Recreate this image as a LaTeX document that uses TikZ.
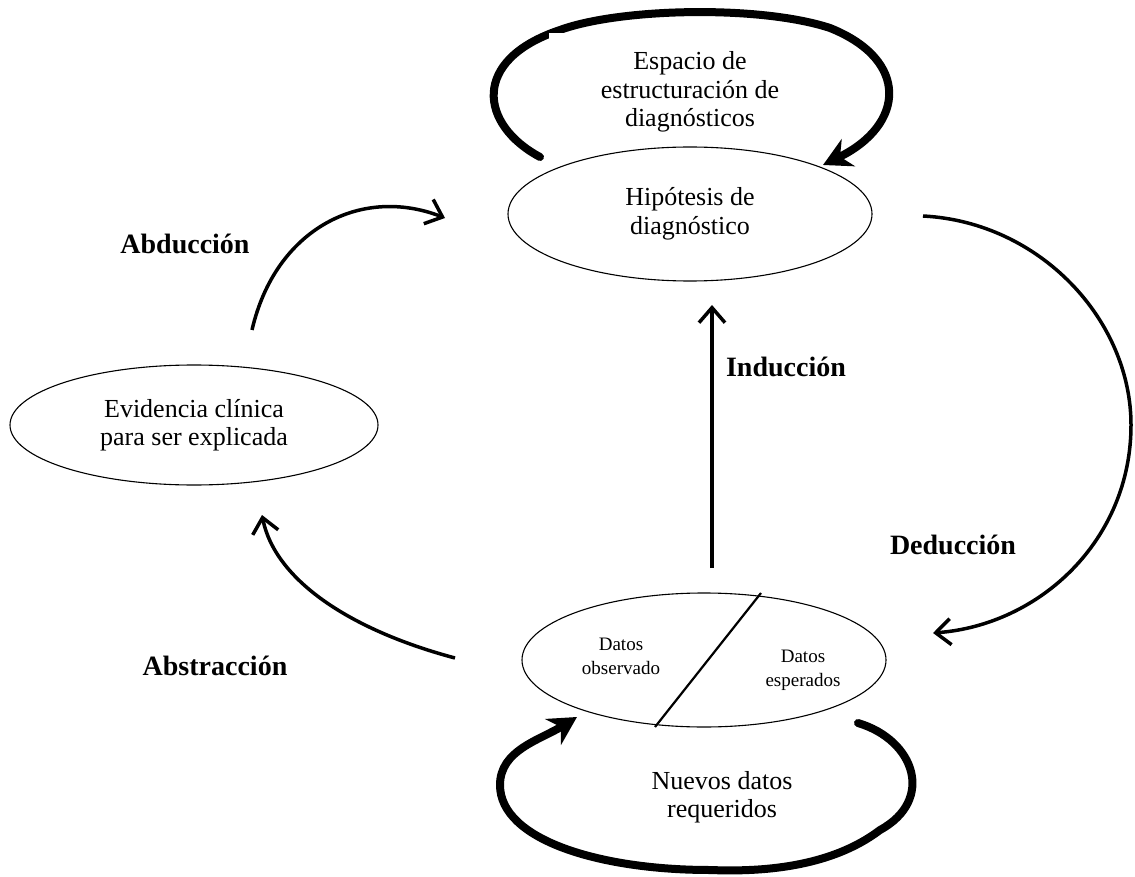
\documentclass[tikz,border=0pt]{standalone}
\usepackage{fontspec}
\setmainfont{Liberation Serif}
\usetikzlibrary{arrows.meta,shapes.geometric}
\begin{document}
\begin{tikzpicture}[x=1pt,y=-1pt,
  ell/.style={draw, ellipse, line width=1.1pt, inner sep=0pt},
  big/.style={font=\fontsize{26}{28.5}\selectfont, align=center, inner sep=0pt},
  small/.style={font=\fontsize{19}{24}\selectfont, align=center, inner sep=0pt},
  lbl/.style={font=\fontsize{28}{30}\selectfont\bfseries, inner sep=0pt},
  thinarrow/.style={line width=3.5pt, -{Straight Barb[length=15pt,width=26pt]}},
  loopstroke/.style={line width=8pt, line cap=round},
  loophead/.style={-{Stealth[length=28pt,width=30pt]}},
]
\useasboundingbox (0,0) rectangle (1135,877);
\fill[white] (0,0) rectangle (1135,877);

% ellipses
\node[ell, big, minimum width=364pt, minimum height=134pt] (hip) at (690,214) {Hipótesis de\\diagnóstico};
\node[ell, big, minimum width=368pt, minimum height=120pt] (evid) at (194,425) {Evidencia clínica\\para ser explicada};
\node[ell, minimum width=364pt, minimum height=134pt] (datos) at (704,660) {};
\node[small] (obs) at (621,656) {Datos\\observado};
\node[small] (esp) at (803,670) {Datos\\esperados};

% divider inside datos ellipse
\coordinate (divT) at (761,593);
\coordinate (divB) at (655,727);
\draw[line width=2.2pt] (divT) -- (divB);

% top self loop
\coordinate (tlS) at (540,157);
\coordinate (tlE) at (823,165);
\draw[loopstroke, loophead] (tlS) .. controls (480,125) and (470,60) .. (560,30)
  .. controls (620,8) and (760,5) .. (830,28)
  .. controls (910,60) and (905,125) .. (tlE);
\node[big, fill=white, minimum width=282pt, minimum height=107pt, anchor=north] (espacio) at (690,33) {};
\node[big] (espaciotxt) at (690,92) {Espacio de\\estructuración de\\diagnósticos};

% bottom self loop
\coordinate (blS) at (858,723);
\coordinate (blE) at (577,717);
\draw[loopstroke, loophead] (blS) .. controls (915,740) and (935,800) .. (880,830)
  .. controls (830,868) and (760,872) .. (710,870)
  .. controls (600,870) and (500,840) .. (500,785)
  .. controls (500,750) and (540,740) .. (blE);
\node[big] (nuevos) at (722,797) {Nuevos datos\\requeridos};

% Abduccion
\coordinate (abdS) at (252,330);
\coordinate (abdE) at (445,218);
\draw[thinarrow] (abdS) .. controls (275,230) and (360,185) .. (abdE);
\node[lbl] (labd) at (185,244) {Abducción};

% Deduccion
\coordinate (dedS) at (923,216);
\coordinate (dedE) at (933,633);
\draw[thinarrow] (dedS) .. controls (1040,222) and (1131,320) .. (1131,425)
  .. controls (1131,540) and (1040,625) .. (dedE);
\node[lbl] (lded) at (953,545) {Deducción};

% Induccion
\coordinate (indS) at (712,568);
\coordinate (indE) at (712,305);
\draw[thinarrow] (indS) -- (indE);
\node[lbl] (lind) at (786,367) {Inducción};

% Abstraccion
\coordinate (absS) at (455,658);
\coordinate (absE) at (262,515);
\draw[thinarrow] (absS) .. controls (350,630) and (275,580) .. (absE);
\node[lbl] (labs) at (215,666) {Abstracción};
\end{tikzpicture}
\end{document}
